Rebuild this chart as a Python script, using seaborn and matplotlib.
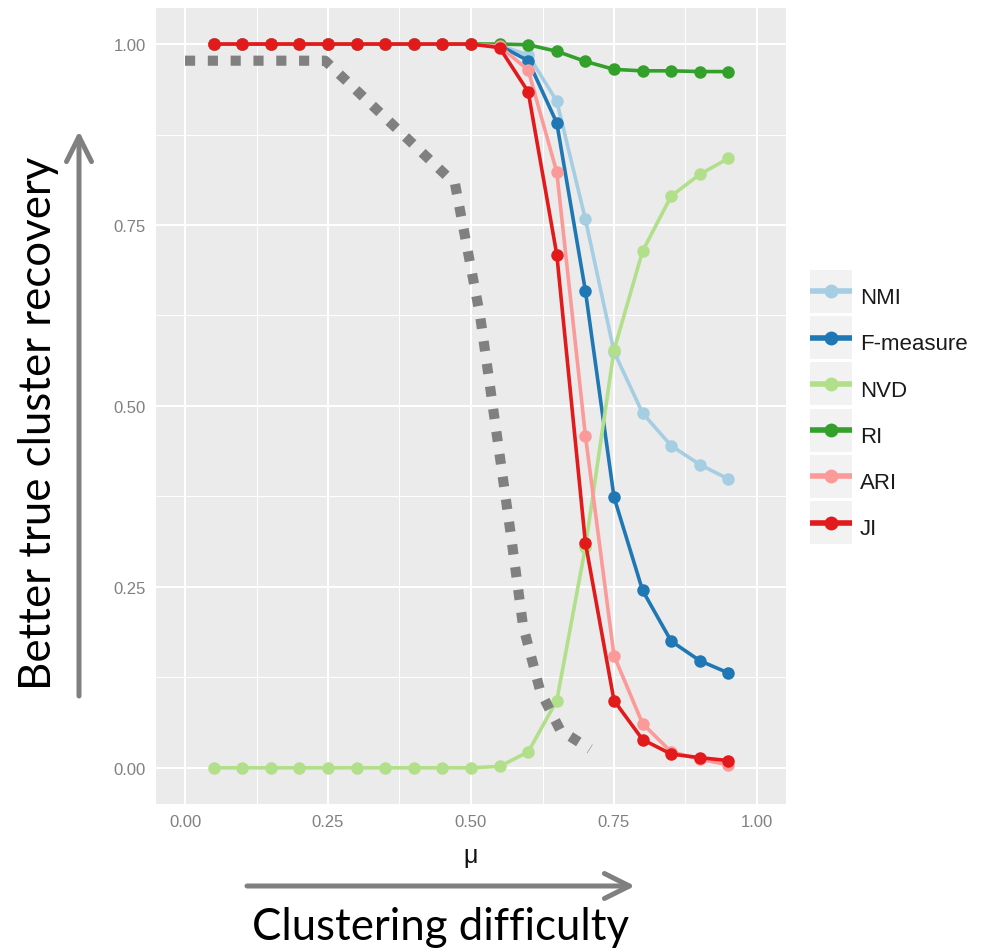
import numpy as np
import pandas as pd
import seaborn as sns
import matplotlib.pyplot as plt
from matplotlib.lines import Line2D
from matplotlib.patches import Rectangle

# mu values (x axis)
mu = [0.05, 0.10, 0.15, 0.20, 0.25, 0.30, 0.35, 0.40, 0.45, 0.50,
      0.55, 0.60, 0.65, 0.70, 0.75, 0.80, 0.85, 0.90, 0.95]

# measures
nmi = [1.0, 1.0, 1.0, 1.0, 1.0, 1.0, 1.0, 1.0, 1.0, 1.0,
       0.998, 0.985, 0.921, 0.758, 0.575, 0.490, 0.445, 0.419, 0.399]
fmeasure = [1.0, 1.0, 1.0, 1.0, 1.0, 1.0, 1.0, 1.0, 1.0, 1.0,
            0.998, 0.977, 0.891, 0.659, 0.374, 0.245, 0.175, 0.148, 0.131]
nvd = [0.0, 0.0, 0.0, 0.0, 0.0, 0.0, 0.0, 0.0, 0.0, 0.0,
       0.002, 0.022, 0.093, 0.305, 0.577, 0.714, 0.790, 0.820, 0.842]
ri = [1.0, 1.0, 1.0, 1.0, 1.0, 1.0, 1.0, 1.0, 1.0, 1.0,
      1.0, 0.999, 0.990, 0.976, 0.965, 0.963, 0.963, 0.962, 0.962]
ari = [1.0, 1.0, 1.0, 1.0, 1.0, 1.0, 1.0, 1.0, 1.0, 1.0,
       0.997, 0.964, 0.823, 0.459, 0.155, 0.061, 0.022, 0.012, 0.004]
ji = [1.0, 1.0, 1.0, 1.0, 1.0, 1.0, 1.0, 1.0, 1.0, 1.0,
      0.995, 0.934, 0.709, 0.311, 0.093, 0.039, 0.019, 0.014, 0.010]

measures = ["NMI", "F-measure", "NVD", "RI", "ARI", "JI"]

# gray dotted guide curve
guide_x = [0.0, 0.245, 0.472, 0.516, 0.570, 0.591, 0.621, 0.656, 0.708]
guide_y = [0.977, 0.977, 0.807, 0.624, 0.320, 0.196, 0.106, 0.052, 0.026]

df = pd.DataFrame({
    "mu": mu * 6,
    "value": nmi + fmeasure + nvd + ri + ari + ji,
    "measure": [m for m in measures for _ in mu],
})

sns.set_style("darkgrid", {"axes.facecolor": "#EBEBEB", "grid.color": "white"})
plt.rcParams["font.family"] = ["Liberation Sans", "DejaVu Sans"]

colors = sns.color_palette("Paired", 6)

fig = plt.figure(figsize=(10, 9.53), dpi=100)
ax = fig.add_axes([0.1564, 0.1553, 0.6292, 0.8354])

sns.lineplot(data=df, x="mu", y="value", hue="measure", hue_order=measures,
             palette=colors, marker="o", markersize=9, markeredgewidth=0,
             linewidth=2.6, legend=False, ax=ax)

ax.plot(guide_x, guide_y, color="#808080", linewidth=7.3,
        dashes=(1, 1.25), dash_capstyle="butt", zorder=5)

ax.set_xlim(-0.05, 1.05)
ax.set_ylim(-0.05, 1.05)
ticks = [0.0, 0.25, 0.5, 0.75, 1.0]
ax.set_xticks(ticks)
ax.set_yticks(ticks)
ax.set_xticklabels(["0.00", "0.25", "0.50", "0.75", "1.00"])
ax.set_yticklabels(["0.00", "0.25", "0.50", "0.75", "1.00"])
ax.set_xticks([0.125, 0.375, 0.625, 0.875], minor=True)
ax.set_yticks([0.125, 0.375, 0.625, 0.875], minor=True)
ax.grid(which="major", color="white", linewidth=1.5)
ax.grid(which="minor", color="white", linewidth=0.7)
ax.tick_params(which="major", length=4.5, width=1, color="#333333",
               labelsize=12, labelcolor="#808080", pad=3)
ax.tick_params(which="minor", length=0)
for s in ax.spines.values():
    s.set_visible(False)
ax.set_ylabel("")
ax.set_xlabel("μ", fontsize=18, color="#111111", labelpad=10)

handles = [Line2D([], [], color=c, linewidth=4, marker="o", markersize=10,
                  markeredgewidth=0, solid_capstyle="butt") for c in colors]
leg = ax.legend(handles, measures, loc="center left",
                bbox_to_anchor=(0.810, 0.567), bbox_transform=fig.transFigure,
                frameon=False, fontsize=16, handlelength=1.9, handleheight=1.9,
                labelspacing=0.6, handletextpad=0.35, borderpad=0,
                borderaxespad=0)
for t in leg.get_texts():
    t.set_color("#1a1a1a")

# gray key backgrounds like the ggplot legend
fig.canvas.draw()
inv = fig.transFigure.inverted()
for h in leg.legend_handles:
    pts = h.get_transform().transform(np.column_stack([h.get_xdata(), h.get_ydata()]))
    x0, x1 = pts[:, 0].min(), pts[:, 0].max()
    yc = pts[:, 1].mean()
    (fx0, fy0), (fx1, fy1) = inv.transform([(x0, yc - 21.5), (x1, yc + 21.5)])
    fig.add_artist(Rectangle((fx0, fy0), fx1 - fx0, fy1 - fy0,
                             transform=fig.transFigure, facecolor="#F2F2F2",
                             edgecolor="none", zorder=-1))

# annotation arrows and texts
arrow = dict(arrowstyle="->, head_length=1.8, head_width=0.9",
             color="#808080", linewidth=3.6, shrinkA=0, shrinkB=0)
ax.annotate("", xy=(635, 66), xytext=(247, 66), xycoords="figure pixels",
            textcoords="figure pixels", arrowprops=arrow)
ax.annotate("", xy=(79, 821), xytext=(79, 256), xycoords="figure pixels",
            textcoords="figure pixels", arrowprops=arrow)

fig.text(0.440, 0.0136, "Clustering difficulty", family="Lato", fontsize=31.5,
         ha="center", va="baseline", color="black")
fig.text(0.039, 1 - 423 / 953, "Better true cluster recovery", family="Lato",
         fontsize=31.5, rotation=90, ha="center", va="center", color="black")

fig.savefig("out.png", dpi=100)
